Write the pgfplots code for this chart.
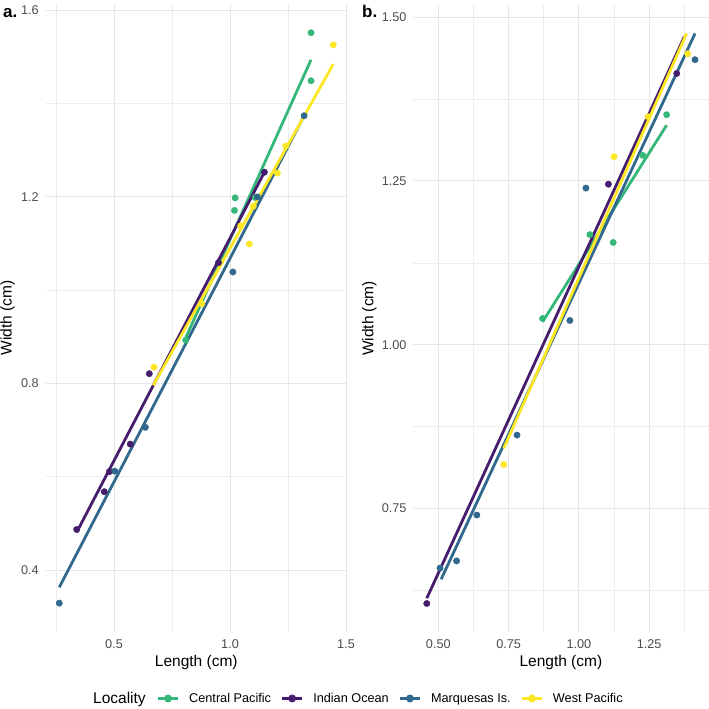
\documentclass[border=0pt]{standalone}
\usepackage{pgfplots}
\pgfplotsset{compat=1.18}
\usepackage{fontspec}
\setmainfont{Liberation Sans}

% viridis palette, one colour per locality
\definecolor{cpac}{HTML}{35B779}
\definecolor{indo}{HTML}{461C6D}
\definecolor{marq}{HTML}{31688E}
\definecolor{wpac}{HTML}{FDE725}
\definecolor{gridmaj}{HTML}{E6E6E6}
\definecolor{gridmin}{HTML}{EDEDED}
\definecolor{tickc}{HTML}{4D4D4D}

\pgfplotsset{
  panel/.style={
    scale only axis, anchor=south west,
    axis line style={draw=none}, tick style={draw=none},
    grid=both,
    major grid style={gridmaj, line width=1pt},
    minor grid style={gridmin, line width=0.6pt},
    /pgf/number format/assume math mode=true,
    ticklabel style={font=\fontsize{12.7}{14}\selectfont, text=tickc},
    yticklabel style={anchor=east, inner sep=0pt, xshift=-6.6pt},
    xticklabel style={anchor=north, inner sep=0pt, yshift=-7.5pt},
    label style={font=\fontsize{15.5}{18}\selectfont},
    xlabel style={at={(axis description cs:0.5,-0.0553)}, anchor=base},
    xlabel={Length (cm)}, ylabel={Width (cm)},
  },
  pts/.style={only marks, mark=*, mark size=3.2pt, mark options={draw=none}, forget plot},
  fit/.style={no marks, line width=2.8pt, forget plot},
}

\begin{document}
\begin{tikzpicture}
\useasboundingbox (0,0) rectangle (709pt,709pt);

% ---------------- panel a ----------------
\begin{axis}[panel,
  at={(45.6pt,77.4pt)}, width=301.4pt, height=627.3pt,
  xmin=0.205, xmax=1.504, ymin=0.268, ymax=1.613,
  xtick={0.5,1.0,1.5}, minor xtick={0.25,0.75,1.25},
  ytick={0.4,0.8,1.2,1.6}, minor ytick={0.6,1.0,1.4},
  xticklabel style={/pgf/number format/.cd, fixed, fixed zerofill, precision=1},
  yticklabel style={/pgf/number format/.cd, fixed, fixed zerofill, precision=1},
  ylabel style={at={(axis description cs:-0.113,0.5)}, anchor=base},
  legend columns=-1,
  legend style={at={(axis description cs:0.3696,-0.1066)}, anchor=west,
    draw=none, fill=none, inner sep=0pt, outer sep=0pt,
    /tikz/column sep=10pt,
    nodes={inner sep=0pt, font=\fontsize{12.7}{14}\selectfont, text=black}},
  legend image code/.code={
    \draw[#1, line width=2.2pt, mark repeat=2, mark phase=2, mark size=2.8pt]
      plot coordinates {(0pt,0pt) (10pt,0pt) (20pt,0pt)};},
]
\addlegendimage{cpac, mark=*, mark options={draw=none, fill=cpac}}
\addlegendentry{Central Pacific}
\addlegendimage{indo, mark=*, mark options={draw=none, fill=indo}}
\addlegendentry{Indian Ocean}
\addlegendimage{marq, mark=*, mark options={draw=none, fill=marq}}
\addlegendentry{Marquesas Is.}
\addlegendimage{wpac, mark=*, mark options={draw=none, fill=wpac}}
\addlegendentry{West Pacific}

% specimens
\addplot[pts, cpac] coordinates {(1.349,1.552) (1.349,1.449) (1.022,1.198)
  (1.019,1.171) (1.108,1.199) (0.809,0.893)};
\addplot[pts, indo] coordinates {(1.148,1.253) (0.950,1.059) (0.652,0.821)
  (0.570,0.670) (0.480,0.611) (0.458,0.568) (0.339,0.487)};
\addplot[pts, marq] coordinates {(0.264,0.329) (0.503,0.612) (0.635,0.706)
  (1.012,1.039) (1.118,1.200) (1.319,1.374)};
\addplot[pts, wpac] coordinates {(1.445,1.526) (1.204,1.251) (1.240,1.309)
  (1.083,1.099) (1.046,1.138) (0.878,0.971) (0.672,0.835) (1.100,1.180)};
% linear fits
\addplot[fit, cpac] coordinates {(0.809,0.898) (1.349,1.494)};
\addplot[fit, indo] coordinates {(0.339,0.481) (1.148,1.253)};
\addplot[fit, marq] coordinates {(0.264,0.363) (1.319,1.374)};
\addplot[fit, wpac] coordinates {(0.669,0.796) (1.445,1.485)};
\end{axis}

% ---------------- panel b ----------------
\begin{axis}[panel,
  at={(413.3pt,77pt)}, width=295.2pt, height=627pt,
  xmin=0.411, xmax=1.461, ymin=0.5615, ymax=1.5185,
  xtick={0.5,0.75,1.0,1.25}, minor xtick={0.625,0.875,1.125,1.375},
  ytick={0.75,1.0,1.25,1.5}, minor ytick={0.625,0.875,1.125,1.375},
  xticklabel style={/pgf/number format/.cd, fixed, fixed zerofill, precision=2},
  yticklabel style={/pgf/number format/.cd, fixed, fixed zerofill, precision=2},
  ylabel style={at={(axis description cs:-0.1355,0.5)}, anchor=base},
]
% specimens
\addplot[pts, cpac] coordinates {(0.871,1.040) (1.039,1.168) (1.122,1.156)
  (1.227,1.289) (1.312,1.351)};
\addplot[pts, indo] coordinates {(0.459,0.605) (1.105,1.245) (1.348,1.414)};
\addplot[pts, marq] coordinates {(0.506,0.659) (0.565,0.670) (0.637,0.740)
  (0.780,0.862) (0.968,1.037) (1.025,1.239) (1.413,1.435)};
\addplot[pts, wpac] coordinates {(0.733,0.817) (1.125,1.287) (1.246,1.348)
  (1.387,1.444)};
% linear fits
\addplot[fit, cpac] coordinates {(0.871,1.035) (1.312,1.335)};
\addplot[fit, indo] coordinates {(0.459,0.613) (1.375,1.470)};
\addplot[fit, marq] coordinates {(0.510,0.642) (1.413,1.475)};
\addplot[fit, wpac] coordinates {(0.733,0.842) (1.383,1.475)};
\end{axis}

% panel tags and legend title
\node[anchor=base west, inner sep=0pt, font=\fontsize{17}{20}\selectfont\bfseries] at (3pt,691pt) {a.};
\node[anchor=base west, inner sep=0pt, font=\fontsize{17}{20}\selectfont\bfseries] at (362pt,691pt) {b.};
\node[anchor=base west, inner sep=0pt, font=\fontsize{15.5}{18}\selectfont] at (93pt,5.7pt) {Locality};
\end{tikzpicture}
\end{document}
